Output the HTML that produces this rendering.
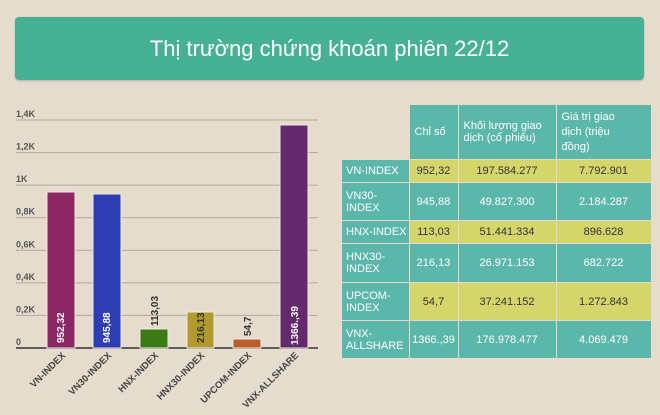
<!DOCTYPE html>
<html><head><meta charset="utf-8"><style>
body{margin:0;width:660px;height:415px;background:#e5dccd;font-family:"Liberation Sans",sans-serif;position:relative;overflow:hidden}
.title{position:absolute;left:15px;top:17px;width:629px;height:63px;background:#46b195;border-radius:4px;color:#fff;font-size:22px;line-height:63px;text-align:center;box-shadow:0 1px 2px rgba(0,0,0,.2)}
table{position:absolute;left:341px;top:104px;border-collapse:collapse;font-size:11px;color:#fff}
td{border:1.5px solid #e5dccd;padding:0 0 0 5px;vertical-align:middle}
.t{background:#5ab7aa}.y{background:#d4d56a;color:#333}
.c{text-align:center;padding:0}
.n{white-space:nowrap;padding-left:4px}
</style></head><body>
<div class="title">Thị trường chứng khoán phiên 22/12</div>
<svg width="340" height="415" style="position:absolute;left:0;top:0" font-family="Liberation Sans" font-size="9" font-weight="bold">
<g stroke="#b3aa9c" stroke-width="1">
<line x1="16" x2="318" y1="120" y2="120"/><line x1="16" x2="318" y1="152.6" y2="152.6"/><line x1="16" x2="318" y1="185.1" y2="185.1"/><line x1="16" x2="318" y1="217.7" y2="217.7"/><line x1="16" x2="318" y1="250.3" y2="250.3"/><line x1="16" x2="318" y1="282.9" y2="282.9"/><line x1="16" x2="318" y1="315.4" y2="315.4"/>
</g>
<line x1="16" x2="318" y1="348" y2="348" stroke="#333" stroke-width="1.5"/>
<g fill="#555">
<text x="16" y="117">1,4K</text><text x="16" y="149.6">1,2K</text><text x="16" y="182">1K</text><text x="16" y="214.7">0,8K</text><text x="16" y="247.3">0,6K</text><text x="16" y="279.9">0,4K</text><text x="16" y="312.4">0,2K</text><text x="16" y="345">0</text>
</g>
<rect x="47" y="192" width="28" height="156" fill="#8c2765" stroke="#f0e8dc"/>
<rect x="93" y="194" width="28" height="154" fill="#2e3db3" stroke="#f0e8dc"/>
<rect x="140" y="329" width="28" height="19" fill="#3c7a16" stroke="#f0e8dc"/>
<rect x="187" y="312" width="27" height="36" fill="#b09a2e" stroke="#f0e8dc"/>
<rect x="233" y="339" width="28" height="9" fill="#b85f2c" stroke="#f0e8dc"/>
<rect x="280" y="125" width="28" height="223" fill="#622a6a" stroke="#f0e8dc"/>
<g font-size="10">
<text transform="translate(64,343) rotate(-90)" fill="#fff">952,32</text>
<text transform="translate(110,343) rotate(-90)" fill="#fff">945,88</text>
<text transform="translate(158,326) rotate(-90)" fill="#333">113,03</text>
<text transform="translate(204,343) rotate(-90)" fill="#333">216,13</text>
<text transform="translate(251,336) rotate(-90)" fill="#333">54,7</text>
<text transform="translate(298,345) rotate(-90)" fill="#fff">1366.,39</text>
</g>
<g fill="#444" font-size="9.5" text-anchor="end">
<text transform="translate(66,356) rotate(-45)">VN-INDEX</text>
<text transform="translate(112,356) rotate(-45)">VN30-INDEX</text>
<text transform="translate(159,356) rotate(-45)">HNX-INDEX</text>
<text transform="translate(205,356) rotate(-45)">HNX30-INDEX</text>
<text transform="translate(252,356) rotate(-45)">UPCOM-INDEX</text>
<text transform="translate(299,356) rotate(-45)">VNX-ALLSHARE</text>
</g>
</svg>
<table>
<tr style="height:55px"><td style="border:none;background:none;width:62px"></td><td class="t" style="width:43px">Chỉ số</td><td class="t" style="width:92px">Khối lượng giao<br>dịch (cổ phiếu)</td><td class="t" style="width:89px;line-height:15px">Giá trị giao<br>dịch (triệu<br>đồng)</td></tr>
<tr style="height:23px"><td class="t n">VN-INDEX</td><td class="y c">952,32</td><td class="y c">197.584.277</td><td class="y c">7.792.901</td></tr>
<tr style="height:38px"><td class="t n">VN30-<br>INDEX</td><td class="t c">945,88</td><td class="t c">49.827.300</td><td class="t c">2.184.287</td></tr>
<tr style="height:23px"><td class="t n">HNX-INDEX</td><td class="y c">113,03</td><td class="y c">51.441.334</td><td class="y c">896.628</td></tr>
<tr style="height:39px"><td class="t n">HNX30-<br>INDEX</td><td class="t c">216,13</td><td class="t c">26.971.153</td><td class="t c">682.722</td></tr>
<tr style="height:38px"><td class="t n">UPCOM-<br>INDEX</td><td class="y c">54,7</td><td class="y c">37.241.152</td><td class="y c">1.272.843</td></tr>
<tr style="height:38px"><td class="t n">VNX-<br>ALLSHARE</td><td class="t c">1366.,39</td><td class="t c">176.978.477</td><td class="t c">4.069.479</td></tr>
</table>
</body></html>
